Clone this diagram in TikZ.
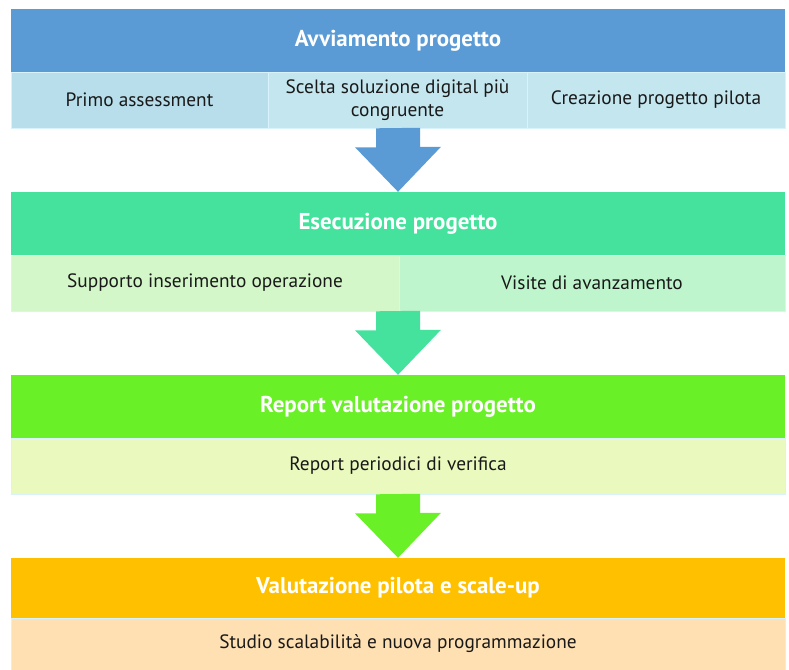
\documentclass[tikz,border=0pt]{standalone}
\usepackage{fontspec}
\setmainfont{PT Sans}
\definecolor{hA}{HTML}{5B9BD5}
\definecolor{sA1}{HTML}{B7DEEA}
\definecolor{sA2}{HTML}{C4E6EF}
\definecolor{hB}{HTML}{44E29C}
\definecolor{sB1}{HTML}{D3F7C8}
\definecolor{sB2}{HTML}{BFF5CC}
\definecolor{hC}{HTML}{6AF026}
\definecolor{sC}{HTML}{EAF9BD}
\definecolor{hD}{HTML}{FFC000}
\definecolor{sD}{HTML}{FFE0B3}
\begin{document}
\begin{tikzpicture}[x=1bp,y=1bp,
  hdr/.style={inner sep=0pt, font=\fontsize{23}{26}\selectfont\bfseries, text=white},
  cell/.style={inner sep=0pt, draw=white!85!cyan, line width=0.6bp, font=\fontsize{19.4}{23}\selectfont, text=black!90, align=center}]
\useasboundingbox (0,0) rectangle (789,670);
% band 1
\node[hdr, fill=hA, minimum width=774bp, minimum height=63bp] (h1) at (398,629.5) {Avviamento progetto};
\node[cell, fill=sA1, minimum width=257bp, minimum height=56bp] (c11) at (139.5,570) {Primo assessment};
\node[cell, fill=sA2, minimum width=259bp, minimum height=56bp] (c12) at (397.5,570) {Scelta soluzione digital più\\congruente};
\node[cell, fill=sA2, minimum width=258bp, minimum height=56bp] (c13) at (656,570) {Creazione progetto pilota};
% band 2
\node[hdr, fill=hB, minimum width=774bp, minimum height=63bp] (h2) at (398,446.5) {Esecuzione progetto};
\node[cell, fill=sB1, minimum width=388bp, minimum height=56bp] (c21) at (205,387) {Supporto inserimento operazione};
\node[cell, fill=sB2, minimum width=386bp, minimum height=56bp] (c22) at (592,387) {Visite di avanzamento};
% band 3
\node[hdr, fill=hC, minimum width=774bp, minimum height=63bp] (h3) at (398,263.5) {Report valutazione progetto};
\node[cell, fill=sC, minimum width=774bp, minimum height=56bp] (c31) at (398,204) {Report periodici di verifica};
% band 4
\node[hdr, fill=hD, minimum width=774bp, minimum height=60bp] (h4) at (398,82) {Valutazione pilota e scale-up};
\node[cell, fill=sD, minimum width=774bp, minimum height=52bp] (c41) at (398,26) {Studio scalabilità e nuova programmazione};
% arrows
\coordinate (a1) at (c12.south -| h1.south);
\fill[hA] (a1) ++(-22,0) -- ++(0,-19) -- ++(-21,0) -- (h2.north) -- ++(43,45) -- ++(-21,0) -- ++(0,19) -- cycle;
\fill[hB] (h2.south |- c21.south) ++(-22,0) -- ++(0,-19) -- ++(-21,0) -- (h3.north) -- ++(43,45) -- ++(-21,0) -- ++(0,19) -- cycle;
\fill[hC] (c31.south) ++(-22,0) -- ++(0,-19) -- ++(-21,0) -- (h4.north) -- ++(43,45) -- ++(-21,0) -- ++(0,19) -- cycle;
\end{tikzpicture}
\end{document}
